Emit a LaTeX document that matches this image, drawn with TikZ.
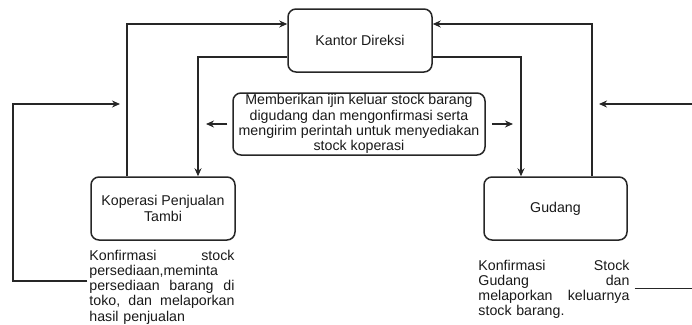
\documentclass[tikz,border=0pt]{standalone}
\usepackage{fontspec}
\setmainfont{Liberation Sans}
\usetikzlibrary{arrows.meta, positioning}

\begin{document}
\begin{tikzpicture}[
    x=1pt, y=-1pt,
    font=\fontsize{14.2}{15.2}\selectfont,
    text=black!90,
    box/.style={draw=black!85, line width=1.5pt, rounded corners=8pt, align=center,
                minimum width=144pt, minimum height=63pt, inner sep=2pt},
    note/.style={align=left, inner sep=0pt},
    arr/.style={-{Stealth[length=8pt, width=7pt]}, line width=1.5pt, draw=black!85}
  ]
  \useasboundingbox (0,0) rectangle (692,324);

  \node[box] (kantor) at (360,40.5) {Kantor Direksi};
  \node[box] (kop) at (163,208.5) {Koperasi Penjualan\\Tambi};
  \node[box, minimum width=143pt] (gud) at (555.5,208.5) {Gudang};
  \node[box, minimum width=252pt, minimum height=62pt, inner sep=0pt] (mid) at (359,124)
    {Memberikan ijin keluar stock barang\\digudang dan mengonfirmasi serta\\mengirim perintah untuk menyediakan\\stock koperasi};

  \node[note, text width=145pt, below right=9pt and -1pt of kop.south west] (koptxt)
    {Konfirmasi\hfill stock\\persediaan,meminta\\persediaan\hfill barang\hfill di\\toko,\hfill dan\hfill melaporkan\\hasil penjualan};
  \node[note, text width=151pt, below right=19pt and -5pt of gud.south west] (gudtxt)
    {Konfirmasi\hfill Stock\\Gudang\hfill dan\\melaporkan\hfill keluarnya\\stock barang.};

  \coordinate (lo) at (127,24);
  \coordinate (li) at (198,57);
  \coordinate (ri) at (521,57);
  \coordinate (ro) at (592,24);
  \coordinate (lf) at (13,104);
  \coordinate (lfend) at (120,104);
  \coordinate (rf) at (720,104);
  \coordinate (rfend) at (599,104);
  \coordinate (ml) at (206,124);
  \coordinate (mr) at (513,124);

  \draw[arr] (kop.north -| lo) |- (kantor.west |- lo);
  \draw[arr] (kantor.west |- li) -| (kop.north -| li);
  \draw[arr] (kantor.east |- ri) -| (gud.north -| ri);
  \draw[arr] (gud.north -| ro) |- (kantor.east |- ro);
  \draw[arr] ([xshift=-2pt, yshift=6pt]koptxt.west) -| (lf) -- (lfend);
  \draw[arr] ([xshift=5pt, yshift=1pt]gudtxt.east) -| (rf) -- (rfend);
  \draw[arr] ([xshift=-5pt]mid.west) -- (ml);
  \draw[arr] ([xshift=6pt]mid.east) -- (mr);
\end{tikzpicture}
\end{document}
